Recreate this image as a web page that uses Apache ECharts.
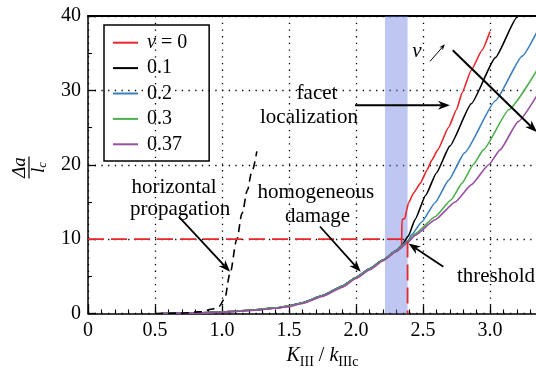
<!DOCTYPE html>
<html><head><meta charset="utf-8">
<script src="https://cdn.jsdelivr.net/npm/echarts@6/dist/echarts.min.js"></script>
<style>html,body{margin:0;padding:0;background:#fff}#c{width:536px;height:371px}</style>
</head><body><div id="c"></div>
<script>
// ---------- data ----------
const seriesNames = ['ν = 0', '0.1', '0.2', '0.3', '0.37'];
const nu0X  = [0.55,0.7,0.85,1.0,1.1,1.25,1.4,1.5,1.6,1.75,1.9,2.0,2.1,2.2,2.3,2.34,2.343,2.366,2.378,2.39,2.43,2.48,2.53,2.565,2.61,2.69,2.75,2.79,2.86,2.94,3.0];
const nu0Y  = [0,0.03,0.1,0.2,0.3,0.5,0.75,1.0,1.45,2.4,3.7,4.85,6.0,7.2,8.45,8.9,12.6,12.8,13.9,14.8,16.2,17.5,19.3,20.6,22.0,25.0,27.4,29.6,32.7,35.4,37.9];
const nu01X = [0.55,0.7,0.85,1.0,1.1,1.25,1.4,1.5,1.6,1.75,1.9,2.0,2.1,2.2,2.3,2.34,2.39,2.44,2.52,2.6,2.7,2.86,3.04,3.2,3.23];
const nu01Y = [0,0.03,0.1,0.2,0.3,0.5,0.75,1.0,1.45,2.4,3.7,4.85,6.0,7.2,8.45,9.1,10.4,12.6,15.9,18.9,22.5,28.2,34.4,39.8,40.8];
const nu02X = [0.55,0.7,0.85,1.0,1.1,1.25,1.4,1.5,1.6,1.75,1.9,2.0,2.1,2.2,2.3,2.39,2.415,2.49,2.59,2.69,2.81,3.04,3.24,3.36];
const nu02Y = [0,0.03,0.1,0.2,0.3,0.5,0.75,1.0,1.45,2.4,3.7,4.85,6.0,7.2,8.45,9.8,10.6,12.3,14.9,17.9,21.6,28.6,34.6,38.2];
const nu03X = [0.55,0.7,0.85,1.0,1.1,1.25,1.4,1.5,1.6,1.75,1.9,2.0,2.1,2.2,2.3,2.39,2.44,2.59,2.71,2.79,2.875,2.95,3.14,3.36];
const nu03Y = [0,0.03,0.1,0.2,0.3,0.5,0.75,1.0,1.42,2.36,3.65,4.8,5.95,7.15,8.4,9.7,10.7,13.0,15.3,17.5,20.0,22.0,27.4,33.0];
const nu037X = [0.55,0.7,0.85,1.0,1.1,1.25,1.4,1.5,1.6,1.75,1.9,2.0,2.1,2.2,2.3,2.39,2.44,2.59,2.74,2.86,2.99,3.075,3.21,3.36];
const nu037Y = [0,0.02,0.08,0.17,0.27,0.45,0.7,0.93,1.35,2.28,3.55,4.7,5.85,7.05,8.3,9.6,10.5,12.6,15.0,17.3,20.0,22.0,25.8,29.6];
const hpX = [0.5,0.7,0.85,0.93,0.98,1.02,1.06,1.11,1.15,1.19,1.22,1.26];
const hpY = [0,0.05,0.25,0.6,1.0,2.0,5.4,9.9,13.5,16.6,18.9,21.8];
const thresholdX = 2.385, thresholdY = 10;
const bandStart = 2.216, bandEnd = 2.385;
const xTickStep = 0.5, yTickStep = 10;

// ---------- styles ----------
const FONT = 'Liberation Serif';
const colors = ['#e8262b', '#000000', '#3b7fc0', '#4cb04a', '#984ea3'];
const zip = (xs, ys) => xs.map((x, i) => [x, ys[i]]);
const curveData = [zip(nu0X, nu0Y), zip(nu01X, nu01Y), zip(nu02X, nu02Y), zip(nu03X, nu03Y), zip(nu037X, nu037Y)];

const chart = echarts.init(document.getElementById('c'), null, {renderer: 'canvas'});
const series = seriesNames.map((n, i) => ({
  name: n, type: 'line', data: curveData[i], showSymbol: false, symbol: 'none',
  smooth: 0.15, smoothMonotone: 'x',
  lineStyle: {color: colors[i], width: 1.6}, itemStyle: {color: colors[i]},
  z: 2, animation: false
}));
series.push({
  name: 'hp', type: 'line', data: zip(hpX, hpY), symbol: 'none', smooth: 0.3, smoothMonotone: 'x',
  lineStyle: {color: '#000', width: 1.6, type: [8, 5]}, z: 2, animation: false
});
series.push({
  name: 'band', type: 'line', data: [], z: 3, animation: false,
  markArea: {silent: true, itemStyle: {color: 'rgba(100,120,222,0.42)'},
    data: [[{xAxis: bandStart, yAxis: 0}, {xAxis: bandEnd, yAxis: 40}]]}
});
series.push({
  name: 'thr', type: 'line', data: [[0, thresholdY], [thresholdX, thresholdY], [thresholdX, 0]],
  symbol: 'none', lineStyle: {color: '#e8262b', width: 1.8, type: [16, 7]}, z: 4, animation: false
});

const option = {
  animation: false,
  backgroundColor: '#fff',
  textStyle: {fontFamily: FONT, color: '#000'},
  grid: {left: 88, right: -21, top: 16, bottom: 57.5, outerBoundsMode: 'none', containLabel: false},
  legend: {
    data: seriesNames, orient: 'vertical', left: 104, top: 25,
    padding: [7.7, 22, 6.7, 9], itemGap: 5.4, itemWidth: 25, itemHeight: 14,
    borderColor: '#000', borderWidth: 1.5, borderRadius: 0,
    icon: 'path://M0,6 L25,6 L25,8 L0,8 Z',
    textStyle: {fontFamily: FONT, fontSize: 20, color: '#000', lineHeight: 20, padding: [0, 0, 0, 4],
      rich: {i: {fontFamily: FONT, fontSize: 20, fontStyle: 'italic', color: '#000'}}},
    formatter: n => n === 'ν = 0' ? '{i|ν} = 0' : n
  },
  xAxis: [{
    type: 'value', min: 0, max: 3.5, interval: xTickStep,
    axisLine: {lineStyle: {color: '#000', width: 1.5}},
    axisTick: {inside: true, length: 8, lineStyle: {color: '#000', width: 1.3}},
    minorTick: {show: true, splitNumber: 5, length: 4, lineStyle: {color: '#000', width: 1.1}},
    splitLine: {show: true, lineStyle: {color: '#000', width: 1.3, type: [1.3, 5.4]}},
    axisLabel: {fontFamily: FONT, fontSize: 20, color: '#000', margin: 7,
      formatter: v => v === 0 ? '0' : v.toFixed(1)},
    name: '{i|K}{s|III}{n| / }{i|k}{s|IIIc}', nameLocation: 'middle', nameGap: 31,
    nameTextStyle: {rich: {
      i: {fontFamily: FONT, fontSize: 20, fontStyle: 'italic', color: '#000', lineHeight: 24, verticalAlign: 'top'},
      n: {fontFamily: FONT, fontSize: 20, color: '#000', lineHeight: 24, verticalAlign: 'top'},
      s: {fontFamily: FONT, fontSize: 14, color: '#000', lineHeight: 13, verticalAlign: 'bottom'}
    }}
  }, {
    type: 'value', position: 'top', min: 0, max: 3.5,
    axisLine: {show: true, lineStyle: {color: '#000', width: 2}},
    axisTick: {show: false}, axisLabel: {show: false}, splitLine: {show: false}
  }],
  yAxis: {
    type: 'value', min: 0, max: 40, interval: yTickStep,
    axisLine: {show: true, lineStyle: {color: '#000', width: 1.5}},
    axisTick: {inside: true, length: 8, lineStyle: {color: '#000', width: 1.3}},
    minorTick: {show: true, splitNumber: 2, length: 4, lineStyle: {color: '#000', width: 1.1}},
    splitLine: {show: true, lineStyle: {color: '#000', width: 1.3, type: [1.3, 5.4]}},
    axisLabel: {fontFamily: FONT, fontSize: 20, color: '#000', margin: 7}
  },
  series: series
};
chart.setOption(option);

// ---------- annotations ----------
const P = (x, y) => chart.convertToPixel({gridIndex: 0}, [x, y]);
function arrow(a, b, h, w, lw) {
  const [x1, y1] = P(a[0], a[1]), [x2, y2] = P(b[0], b[1]);
  const dx = x2 - x1, dy = y2 - y1, L = Math.hypot(dx, dy), ux = dx / L, uy = dy / L;
  const nx = -uy, ny = ux;
  const bx = x2 - ux * h, by = y2 - uy * h;
  const mx = x2 - ux * h * 0.7, my = y2 - uy * h * 0.7;
  return [
    {type: 'line', shape: {x1, y1, x2: mx, y2: my}, style: {stroke: '#000', lineWidth: lw}, z: 10},
    {type: 'polygon', shape: {points: [[x2, y2], [bx + nx * w, by + ny * w], [mx, my], [bx - nx * w, by - ny * w]]},
      style: {fill: '#000'}, z: 10}
  ];
}
function label(txt, x, y, italic) {
  const [px, py] = P(x, y);
  return {type: 'text', x: px, y: py, z: 10,
    style: {text: txt, fontFamily: FONT, fontSize: 21, fontStyle: italic ? 'italic' : 'normal',
      fill: '#000', align: 'center', verticalAlign: 'middle'}};
}
const g = [];
g.push(...arrow([1.993, 28.0], [2.701, 28.0], 12, 4.5, 2));
g.push(...arrow([2.722, 35.4], [3.35, 24.4], 12, 4.5, 2));
g.push(...arrow([2.552, 33.9], [2.664, 36.2], 6, 2.2, 1));
g.push(...arrow([0.679, 13.0], [1.060, 5.6], 12, 4.5, 1.8));
g.push(...arrow([1.731, 11.7], [2.035, 5.6], 12, 4.5, 1.8));
g.push(...arrow([2.652, 6.3], [2.392, 9.4], 12, 4.5, 1.8));
g.push(label('facet', 1.709, 29.6));
g.push(label('localization', 1.649, 26.3));
g.push(label('ν', 2.455, 35.2, true));
g.push(label('horizontal', 0.642, 16.9));
g.push(label('propagation', 0.687, 14.0));
g.push(label('homogeneous', 1.701, 16.3));
g.push(label('damage', 1.713, 13.1));
g.push(label('threshold', 3.045, 5.0));
// y-axis name (fraction, rotated)
g.push({
  type: 'group', x: 29, y: 167.5, rotation: Math.PI / 2, z: 10,
  children: [
    {type: 'text', x: 0, y: -9, style: {text: 'Δa', fontFamily: FONT, fontSize: 19, fontStyle: 'italic',
      fill: '#000', align: 'center', verticalAlign: 'middle'}},
    {type: 'line', shape: {x1: -11, y1: 0, x2: 11, y2: 0}, style: {stroke: '#000', lineWidth: 1.2}},
    {type: 'text', x: 0, y: 10, style: {text: '{i|l}{s|c}', fontFamily: FONT, fontSize: 19, fill: '#000',
      align: 'center', verticalAlign: 'middle',
      rich: {i: {fontFamily: FONT, fontSize: 19, fontStyle: 'italic', fill: '#000', lineHeight: 20, verticalAlign: 'top'},
             s: {fontFamily: FONT, fontSize: 13, fontStyle: 'italic', fill: '#000', lineHeight: 10, verticalAlign: 'bottom'}}}}
  ]
});
chart.setOption({graphic: g});
</script></body></html>
